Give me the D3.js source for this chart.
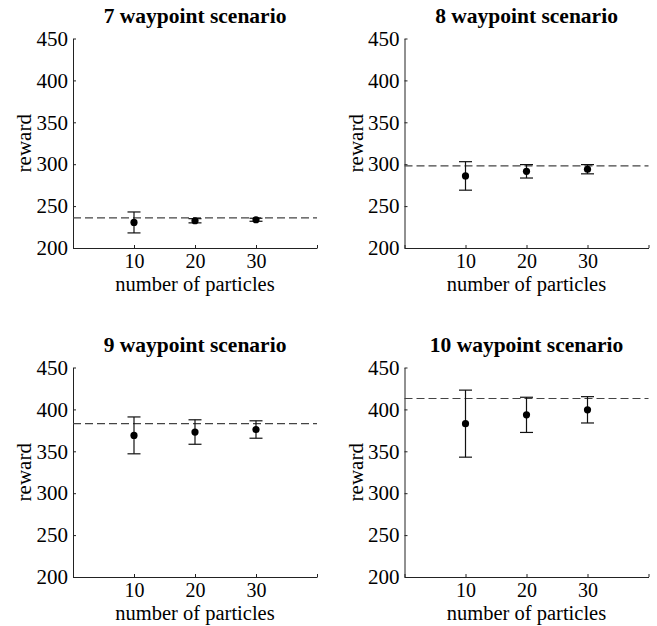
<!DOCTYPE html>
<html>
<head>
<meta charset="utf-8">
<script src="https://cdn.jsdelivr.net/npm/d3@7"></script>
<style>
  body { margin: 0; background: #fff; }
  svg text { font-family: 'Liberation Serif', 'Times New Roman', serif; fill: #000; }
</style>
</head>
<body>
<div id="chart"></div>
<script>
// scenario titles
const titles = ['7 waypoint scenario', '8 waypoint scenario', '9 waypoint scenario', '10 waypoint scenario']

// x categories (number of particles)
const particles = [10, 20, 30]

// mean reward per scenario
const means = [
  [230.5, 232.5, 233.7],
  [286, 291.5, 294],
  [369, 373, 376],
  [383, 393.5, 399.5]
]

// error bar half-widths
const errors = [
  [12.5, 2.5, 1.8],
  [17, 8, 5.5],
  [22, 14.6, 10.4],
  [40, 21, 15.7]
]

// reference level (dashed line)
const baselines = [236, 298, 383, 413]

const yTicks = [200, 250, 300, 350, 400, 450]
const xTicks = [0, 10, 20, 30, 40]

// layout
const width = 657, height = 626
const plotW = 244, plotH = 209.5
const colX = [73, 404.5]
const rowY = [38.5, 367.5]
const serif = "'Liberation Serif', 'Times New Roman', serif"

const svg = d3.select('#chart').append('svg')
  .attr('width', width)
  .attr('height', height)

titles.forEach(function(title, i) {
  const ox = colX[i % 2], oy = rowY[Math.floor(i / 2)]

  const g = svg.append('g')
    .attr('transform', 'translate(' + ox + ',' + oy + ')')

  const x = d3.scaleLinear().domain([0, 40]).range([0, plotW])
  const y = d3.scaleLinear().domain([200, 450]).range([plotH, 0])

  // y axis, ticks pointing inward
  const yAxis = g.append('g')
    .call(d3.axisLeft(y).tickValues(yTicks).tickSizeInner(-3).tickSizeOuter(0).tickPadding(5))
    .attr('font-family', serif)
    .attr('font-size', 21)
  yAxis.select('.domain').attr('stroke', '#222')
  yAxis.selectAll('.tick line').attr('stroke', '#222')

  // x axis, ticks pointing inward
  const xAxis = g.append('g')
    .attr('transform', 'translate(0,' + plotH + ')')
    .call(d3.axisBottom(x).tickValues(xTicks).tickSizeInner(-3).tickSizeOuter(0).tickPadding(6)
      .tickFormat((d) => particles.includes(d) ? d : ''))
    .attr('font-family', serif)
    .attr('font-size', 20)
  xAxis.select('.domain').attr('stroke', '#222')
  xAxis.selectAll('.tick line').attr('stroke', '#222')

  // dashed reference line
  g.append('line')
    .attr('x1', 0)
    .attr('x2', plotW)
    .attr('y1', y(baselines[i]))
    .attr('y2', y(baselines[i]))
    .attr('stroke', '#444')
    .attr('stroke-width', 1.2)
    .attr('stroke-dasharray', '8,4')

  const pts = particles.map((p, j) => ({p: p, m: means[i][j], e: errors[i][j]}))

  // error bars
  const bars = g.append('g').selectAll('g')
    .data(pts).enter()
    .append('g')
      .attr('stroke', '#111')
      .attr('stroke-width', 1.2)

  bars.append('line')
    .attr('x1', (d) => x(d.p))
    .attr('x2', (d) => x(d.p))
    .attr('y1', (d) => y(d.m + d.e))
    .attr('y2', (d) => y(d.m - d.e))

  bars.append('line')
    .attr('x1', (d) => x(d.p) - 6.5)
    .attr('x2', (d) => x(d.p) + 6.5)
    .attr('y1', (d) => y(d.m + d.e))
    .attr('y2', (d) => y(d.m + d.e))

  bars.append('line')
    .attr('x1', (d) => x(d.p) - 6.5)
    .attr('x2', (d) => x(d.p) + 6.5)
    .attr('y1', (d) => y(d.m - d.e))
    .attr('y2', (d) => y(d.m - d.e))

  // mean markers
  g.append('g').selectAll('circle')
    .data(pts).enter()
    .append('circle')
      .attr('cx', (d) => x(d.p))
      .attr('cy', (d) => y(d.m))
      .attr('r', 3.6)
      .attr('fill', '#000')

  // title
  g.append('text')
    .attr('x', plotW / 2)
    .attr('y', -16)
    .attr('text-anchor', 'middle')
    .style('font-size', '21.5px')
    .style('font-weight', 'bold')
    .text(title)

  // axis labels
  g.append('text')
    .attr('x', plotW / 2)
    .attr('y', plotH + 43)
    .attr('text-anchor', 'middle')
    .style('font-size', '20.5px')
    .text('number of particles')

  g.append('text')
    .attr('transform', 'translate(-42,' + (plotH / 2) + ') rotate(-90)')
    .attr('text-anchor', 'middle')
    .style('font-size', '21px')
    .text('reward')
})
</script>
</body>
</html>
